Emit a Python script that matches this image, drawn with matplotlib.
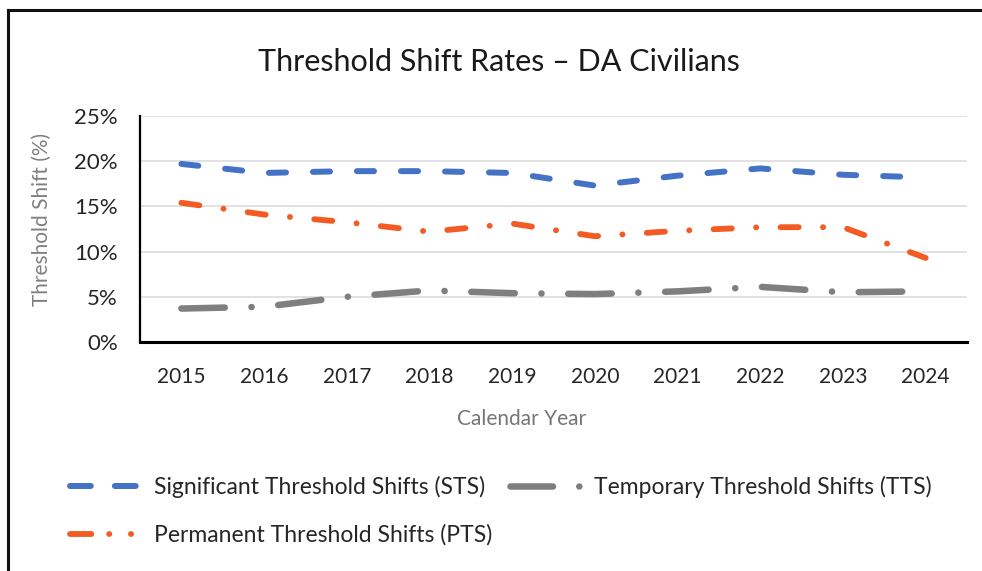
import matplotlib
matplotlib.use("Agg")
import matplotlib.pyplot as plt
from matplotlib.lines import Line2D
from matplotlib.ticker import PercentFormatter

plt.rcParams['font.family'] = ['Lato', 'DejaVu Sans']
plt.rcParams['lines.scale_dashes'] = False

years = ['2015', '2016', '2017', '2018', '2019', '2020', '2021', '2022', '2023', '2024']
sts = [19.7, 18.7, 18.9, 18.9, 18.7, 17.3, 18.4, 19.2, 18.5, 18.2]
tts = [3.7, 3.9, 5.0, 5.7, 5.4, 5.3, 5.6, 6.1, 5.5, 5.6]
pts = [15.4, 14.1, 13.25, 12.2, 13.1, 11.7, 12.3, 12.7, 12.7, 9.3]

labels = ['Significant Threshold Shifts (STS)',
          'Temporary Threshold Shifts (TTS)',
          'Permanent Threshold Shifts (PTS)']

BLUE = '#4472C4'
ORANGE = '#F35B24'
GREY = '#7F7F7F'
DARK = '#262626'

fig = plt.figure(figsize=(9.82, 5.71), dpi=100)
ax = fig.add_axes([140 / 982, 1 - 342 / 571, 827 / 982, 226 / 571])

x = list(range(len(years)))
ax.plot(x, sts, color=BLUE, lw=4.3, dashes=(12.3, 19.4),
        dash_capstyle='round', zorder=3)
ax.plot(x, tts, color=GREY, lw=4.7, dashes=(31.3, 19.2, 0.1, 19.2),
        dash_capstyle='round', zorder=3)
ax.plot(x, pts, color=ORANGE, lw=4.2, dashes=(13.1, 17.5, 0.1, 17.5),
        dash_capstyle='round', zorder=3)

ax.set_xlim(-0.5, len(years) - 0.5)
ax.set_ylim(0, 25)
ax.set_yticks([0, 5, 10, 15, 20, 25])
ax.yaxis.set_major_formatter(PercentFormatter(decimals=0))
ax.set_xticks(x)
ax.set_xticklabels(years)
ax.tick_params(axis='both', length=0, labelcolor=DARK)
ax.tick_params(axis='y', pad=16, labelsize=16)
ax.tick_params(axis='x', pad=18, labelsize=15)
ax.grid(axis='y', color='#D9D9D9', lw=1.1)
ax.set_axisbelow(True)
for s in ['top', 'right']:
    ax.spines[s].set_visible(False)
ax.spines['left'].set_linewidth(1.6)
ax.spines['bottom'].set_linewidth(2.2)
ax.spines['left'].set_color('black')
ax.spines['bottom'].set_color('black')

fig.text(522 / 982, 1 - 419 / 571, 'Calendar Year', fontsize=15, color='#767676',
         ha='center', va='center')
fig.text(42 / 982, 1 - 219 / 571, 'Threshold Shift (%)', fontsize=15, color='#808080',
         ha='center', va='center', rotation=90)

fig.text(499 / 982, 1 - 62 / 571, 'Threshold Shift Rates \u2013 DA Civilians',
         ha='center', va='center', fontsize=22, color='#1a1a1a')

# legend handles drawn with the shorter dash patterns used in the reference legend
h_sts = Line2D([], [], color=BLUE, lw=4.3, dashes=(15, 17.3), dash_capstyle='round')
h_pts = Line2D([], [], color=ORANGE, lw=4.2, dashes=(15.4, 12.8, 0.1, 15.6, 0.1, 40),
               dash_capstyle='round')
h_tts = Line2D([], [], color=GREY, lw=4.7, dashes=(30.6, 18.9, 0.1, 40),
               dash_capstyle='round')

fig.legend(handles=[h_sts, h_pts, h_tts], labels=[labels[0], labels[2], labels[1]],
           ncol=2, loc='upper left', bbox_to_anchor=(70 / 982, 1 - 476 / 571),
           frameon=False, fontsize=16.5, handlelength=3.2, handletextpad=0.45,
           columnspacing=0.8, labelspacing=1.15, borderpad=0, borderaxespad=0,
           labelcolor=DARK)

# outer frame (top and left edges visible in the reference)
fig.add_artist(Line2D([8 / 982, 8 / 982], [0, 1 - 10 / 571], color='#111111', lw=2.2,
                      transform=fig.transFigure))
fig.add_artist(Line2D([8 / 982, 1], [1 - 10 / 571, 1 - 10 / 571], color='#111111', lw=2.2,
                      transform=fig.transFigure))

fig.savefig('out.png', dpi=100)
